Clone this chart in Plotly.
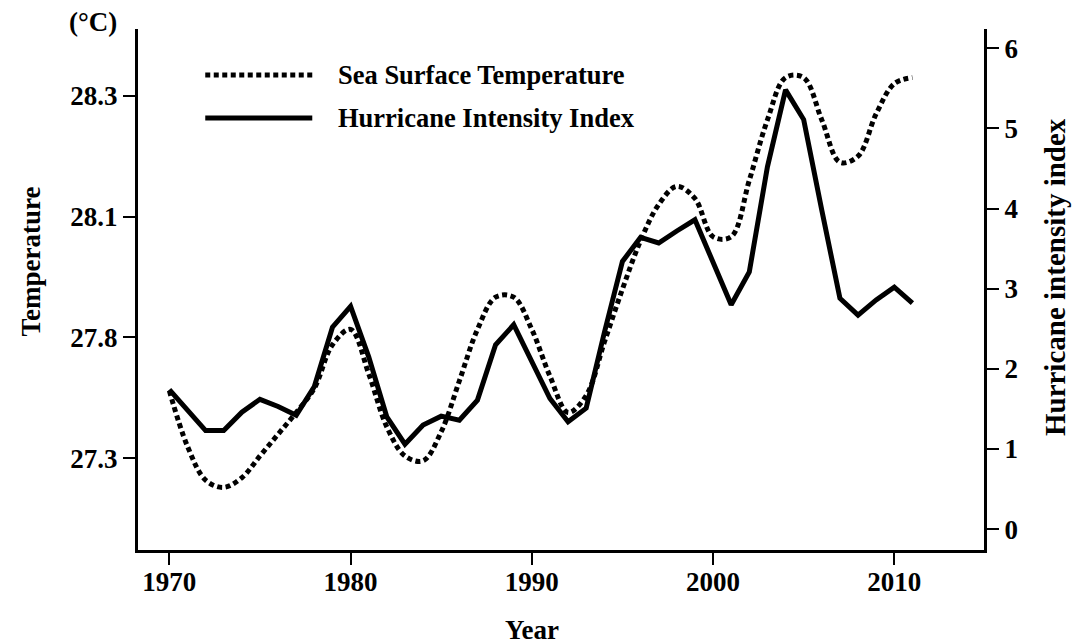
import numpy as np
import plotly.graph_objects as go

# ---------------- data ----------------
years = list(range(1970, 2012))

sst = [27.58, 27.35, 27.21, 27.18, 27.22, 27.31, 27.40, 27.49, 27.59, 27.77,
       27.82, 27.65, 27.43, 27.31, 27.29, 27.41, 27.62, 27.82, 27.90, 27.90,
       27.82, 27.64, 27.49, 27.56, 27.78, 27.92, 28.04, 28.12, 28.15, 28.13,
       28.05, 28.05, 28.16, 28.26, 28.33, 28.33, 28.26, 28.19, 28.20, 28.27,
       28.32, 28.33]

hurricane = [1.74, 1.48, 1.23, 1.23, 1.46, 1.62, 1.53, 1.42, 1.78, 2.52,
             2.78, 2.15, 1.40, 1.06, 1.30, 1.41, 1.36, 1.61, 2.30, 2.55,
             2.08, 1.63, 1.34, 1.51, 2.45, 3.34, 3.64, 3.57, 3.72, 3.86,
             3.33, 2.80, 3.21, 4.52, 5.48, 5.11, 3.98, 2.88, 2.67, 2.86,
             3.02, 2.82]

temp_ticks = [27.3, 27.8, 28.1, 28.3]   # left-axis labels (equally spaced on the chart)
x_ticks = [1970, 1980, 1990, 2000, 2010]
right_ticks = [0, 1, 2, 3, 4, 5, 6]

# The left temperature axis is labelled at equal spacing with uneven values;
# map temperatures onto that piecewise-linear scale (extrapolating at the ends).
def temp_scale(t):
    t = np.asarray(t, dtype=float)
    tv = np.array(temp_ticks)
    pos = np.arange(len(tv), dtype=float)
    out = np.interp(t, tv, pos)
    lo = t < tv[0]
    out[lo] = (t[lo] - tv[0]) / (tv[1] - tv[0])
    hi = t > tv[-1]
    out[hi] = pos[-1] + (t[hi] - tv[-1]) / (tv[-1] - tv[-2])
    return out

FONT = "Liberation Serif, Times New Roman, serif"
DOT = "5px,3.5px"

fig = go.Figure()
fig.add_trace(go.Scatter(
    x=years, y=temp_scale(sst), mode="lines", name="Sea Surface Temperature",
    line=dict(color="black", width=5, dash=DOT, shape="spline", smoothing=1),
    yaxis="y", showlegend=False))
fig.add_trace(go.Scatter(
    x=years, y=hurricane, mode="lines", name="Hurricane Intensity Index",
    line=dict(color="black", width=5), yaxis="y2", showlegend=False))

tickfont = dict(family=FONT, size=27, color="black", weight="bold")
axis_common = dict(showgrid=False, zeroline=False, showline=True, linecolor="black",
                   linewidth=3, ticks="outside", ticklen=12, tickwidth=1.5,
                   tickcolor="black", tickfont=tickfont)

fig.update_layout(
    width=1078, height=644,
    margin=dict(l=138, r=94, t=29, b=94),
    paper_bgcolor="white", plot_bgcolor="white",
    xaxis=dict(range=[1968.27, 2014.95], tickvals=x_ticks, ticklabelstandoff=-6,
               **axis_common),
    yaxis=dict(range=[-0.758, 3.552], tickvals=list(range(len(temp_ticks))),
               ticktext=[f"{v:.1f}" for v in temp_ticks], side="left", **axis_common),
    yaxis2=dict(range=[-0.26, 6.24], tickvals=right_ticks, overlaying="y",
                side="right", **axis_common),
)

fs = dict(family=FONT, size=27, color="black", weight="bold")
fr = dict(family=FONT, size=29, color="black", weight="bold")
fl = dict(family=FONT, size=26.5, color="black", weight="bold")
ann = [
    dict(text="Year", x=1990, xref="x", y=-0.153, yref="paper", showarrow=False,
         xanchor="center", yanchor="middle", font=fs),
    dict(text="Temperature", x=-0.127, xref="paper", y=0.553, yref="paper",
         showarrow=False, textangle=-90, xanchor="center", yanchor="middle", font=fs),
    dict(text="Hurricane intensity index", x=1.084, xref="paper", y=0.524, yref="paper",
         showarrow=False, textangle=-90, xanchor="center", yanchor="middle", font=fr),
    dict(text="(°C)", x=-0.053, xref="paper", y=1.013, yref="paper", showarrow=False,
         xanchor="center", yanchor="middle", font=fs),
    dict(text="Sea Surface Temperature", x=0.234, xref="paper", y=0.9117, yref="paper",
         showarrow=False, xanchor="left", yanchor="middle", font=fl),
    dict(text="Hurricane Intensity Index", x=0.234, xref="paper", y=0.829, yref="paper",
         showarrow=False, xanchor="left", yanchor="middle", font=fl),
]
fig.update_layout(annotations=ann)

fig.add_shape(type="line", xref="paper", yref="paper", x0=0.0795, x1=0.206,
              y0=0.9117, y1=0.9117, line=dict(color="black", width=5, dash=DOT))
fig.add_shape(type="line", xref="paper", yref="paper", x0=0.0795, x1=0.206,
              y0=0.829, y1=0.829, line=dict(color="black", width=5))

fig.write_html("out.html", config={"displayModeBar": False},
               post_script="document.body.style.margin='0';document.body.style.overflow='hidden';")
